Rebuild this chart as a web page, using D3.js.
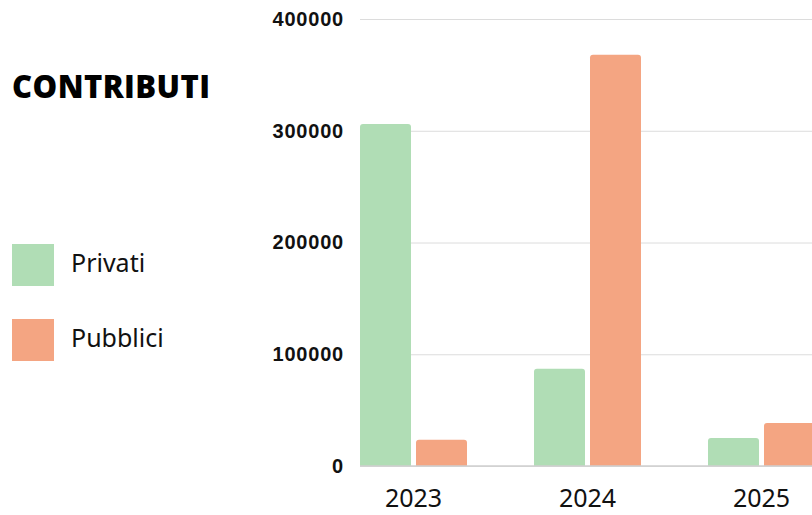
<!DOCTYPE html>
<html>
<head>
<meta charset="utf-8">
<script src="https://cdn.jsdelivr.net/npm/d3@7"></script>
<style>
  body { margin: 0; background: #fff; }
  svg { display: block; }
</style>
</head>
<body>
<div class="chart"></div>
<script>
  var years = ["2023", "2024", "2025"];
  var seriesNames = ["Privati", "Pubblici"];
  var privati = [306000, 87000, 25000];
  var pubblici = [23500, 368000, 38500];
  var yTicks = [0, 100000, 200000, 300000, 400000];
  var colors = ["#b0ddb5", "#f4a582"];

  var w = 812;
  var h = 515;

  var svg = d3.select(".chart")
              .append("svg")
              .attr("width", w)
              .attr("height", h);

  var y = d3.scaleLinear()
            .domain([0, 400000])
            .range([466, 19]);

  var x0 = d3.scaleBand()
             .domain(years)
             .range([326.5, 848.5])
             .paddingInner(0.385)
             .paddingOuter(0.1925);

  var x1 = d3.scaleBand()
             .domain(seriesNames)
             .range([0, x0.bandwidth()])
             .paddingInner(5 / 56);

  var color = d3.scaleOrdinal().domain(seriesNames).range(colors);

  // gridlines
  svg.append("g")
     .attr("transform", "translate(360,0)")
     .call(d3.axisLeft(y).tickValues(yTicks).tickSize(-(w - 360)).tickFormat(""))
     .call(function(g) {
       g.select(".domain").remove();
       g.selectAll("line").attr("stroke", "#dcdcdc").attr("stroke-width", 1);
     });

  // y tick labels
  svg.append("g")
     .attr("transform", "translate(344,0)")
     .call(d3.axisLeft(y).tickValues(yTicks).tickSize(0).tickPadding(0).tickFormat(d3.format("d")))
     .call(function(g) {
       g.select(".domain").remove();
       g.selectAll("text")
        .attr("font-family", "Liberation Sans, Arial, sans-serif")
        .attr("font-weight", "bold")
        .attr("font-size", "20px")
        .attr("letter-spacing", "0.8px")
        .attr("fill", "#111");
     });

  var data = years.map(function(yr, i) {
    return { year: yr, values: [privati[i], pubblici[i]] };
  });

  function topRounded(x, yTop, bw, bottom, r) {
    var p = d3.path();
    p.moveTo(x, bottom);
    p.lineTo(x, yTop + r);
    p.quadraticCurveTo(x, yTop, x + r, yTop);
    p.lineTo(x + bw - r, yTop);
    p.quadraticCurveTo(x + bw, yTop, x + bw, yTop + r);
    p.lineTo(x + bw, bottom);
    p.closePath();
    return p.toString();
  }

  var groups = svg.selectAll("g.year")
                  .data(data)
                  .enter()
                  .append("g")
                  .attr("class", "year")
                  .attr("transform", function(d) { return "translate(" + x0(d.year) + ",0)"; });

  groups.selectAll("path")
        .data(function(d) {
          return seriesNames.map(function(s, i) { return { key: s, value: d.values[i] }; });
        })
        .enter()
        .append("path")
        .attr("d", function(d) {
          return topRounded(x1(d.key), y(d.value), x1.bandwidth(), y(0), 3);
        })
        .attr("fill", function(d) { return color(d.key); });

  // baseline
  svg.append("line")
     .attr("x1", 360).attr("x2", w)
     .attr("y1", y(0)).attr("y2", y(0))
     .attr("stroke", "#cfcfcf")
     .attr("stroke-width", 1.5);

  // x labels
  svg.append("g")
     .attr("transform", "translate(0," + y(0) + ")")
     .call(d3.axisBottom(x0).tickSize(0).tickPadding(0))
     .call(function(g) {
       g.select(".domain").remove();
       g.selectAll("text")
        .attr("dy", null)
        .attr("y", 41)
        .attr("font-family", "'Noto Sans', sans-serif")
        .attr("font-size", "25px")
        .attr("fill", "#111");
     });

  // title
  svg.append("text")
     .text("CONTRIBUTI")
     .attr("x", 12)
     .attr("y", 98)
     .attr("textLength", 198)
     .attr("lengthAdjust", "spacing")
     .attr("font-family", "'Open Sans', sans-serif")
     .attr("font-weight", 800)
     .attr("font-size", "31px")
     .attr("fill", "#000");

  // legend
  var legend = svg.selectAll("g.legend")
                  .data(seriesNames)
                  .enter()
                  .append("g")
                  .attr("class", "legend")
                  .attr("transform", function(d, i) { return "translate(12," + (244 + i * 75) + ")"; });

  legend.append("rect")
        .attr("width", 42)
        .attr("height", 42)
        .attr("fill", function(d) { return color(d); });

  legend.append("text")
        .text(function(d) { return d; })
        .attr("x", 59)
        .attr("y", 28)
        .attr("font-family", "'Noto Sans', sans-serif")
        .attr("font-size", "25px")
        .attr("fill", "#111");
</script>
</body>
</html>
